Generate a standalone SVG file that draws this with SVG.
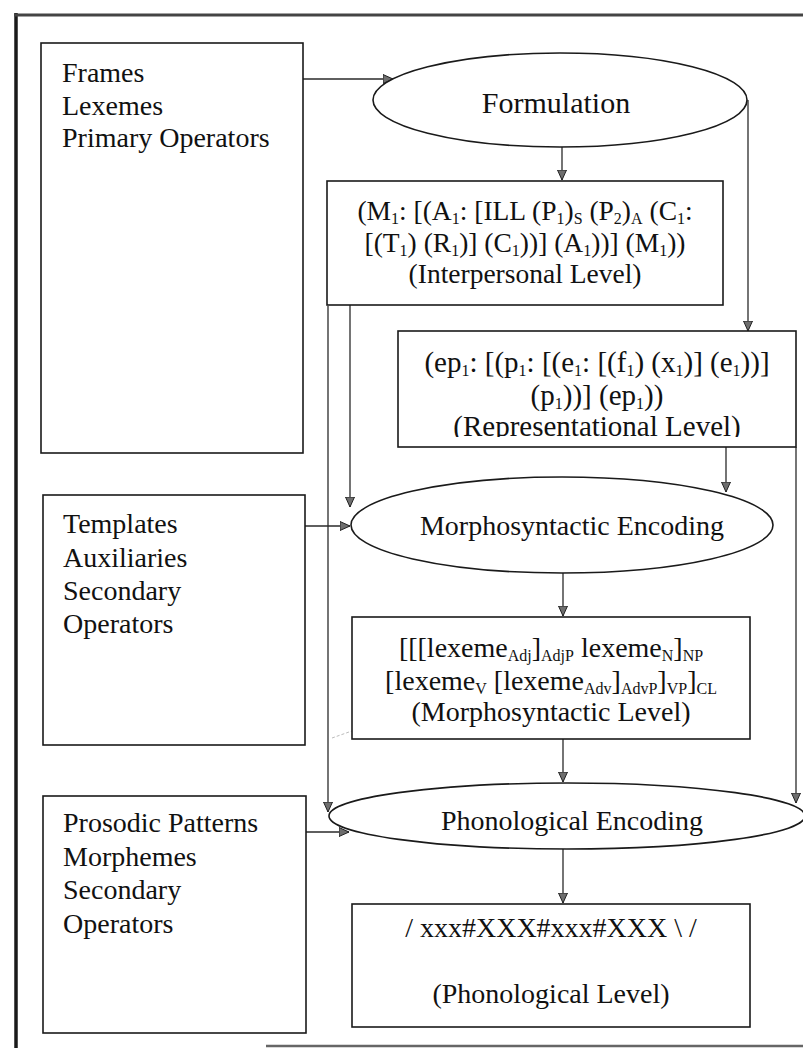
<svg xmlns="http://www.w3.org/2000/svg" width="803" height="1048" viewBox="0 0 803 1048">
<defs>
<marker id="ah" viewBox="0 0 10 10" refX="10" refY="5" markerWidth="10" markerHeight="10" markerUnits="userSpaceOnUse" orient="auto">
<path d="M0,0.5 L10,5 L0,9.5 z" fill="#6e6e6e" stroke="#222" stroke-width="1"/>
</marker>
<clipPath id="repclip"><rect x="398" y="331" width="398" height="106"/></clipPath>
</defs>
<style>
.box{fill:#fff;stroke:#1a1a1a;stroke-width:1.6}
.ell{fill:#fff;stroke:#1a1a1a;stroke-width:1.6}
.t{font-family:"Liberation Serif","Times New Roman",serif;font-size:28px;fill:#111}
.c{text-anchor:middle}
.sb{font-size:16px}
.conn path{stroke:#2a2a2a;stroke-width:1.3;fill:none;marker-end:url(#ah)}
</style>
<rect x="0" y="0" width="803" height="1048" fill="#fff"/>
<g id="frame">
<line x1="16" y1="13" x2="16" y2="1048" stroke="#1a1a1a" stroke-width="3.5"/>
<line x1="14" y1="15" x2="803" y2="15" stroke="#444" stroke-width="3"/>
<line x1="266" y1="1046" x2="803" y2="1046" stroke="#666" stroke-width="2.5"/>
<line x1="332" y1="738" x2="553" y2="660" stroke="#aaa" stroke-width="0.8" stroke-dasharray="3 2"/>
</g>
<g id="connectors" class="conn">
<path d="M303,79 H393"/>
<path d="M562,147 V180"/>
<path d="M748,100 V331"/>
<path d="M350,305 V507"/>
<path d="M328,306 V812"/>
<path d="M726,447 V492"/>
<path d="M796,447 V803"/>
<path d="M305,526 H350"/>
<path d="M563,573 V616"/>
<path d="M563,739 V782"/>
<path d="M306,832 H349"/>
<path d="M563,849 V903"/>
</g>
<g id="box-frames">
<rect class="box" x="41" y="43" width="262" height="410"/>
<text class="t" x="62" y="82">Frames</text>
<text class="t" x="62" y="115">Lexemes</text>
<text class="t" x="62" y="147">Primary Operators</text>
</g>
<g id="box-templates">
<rect class="box" x="43" y="495" width="262" height="250"/>
<text class="t" x="63" y="533">Templates</text>
<text class="t" x="63" y="567">Auxiliaries</text>
<text class="t" x="63" y="600">Secondary</text>
<text class="t" x="63" y="633">Operators</text>
</g>
<g id="box-prosodic">
<rect class="box" x="43" y="796" width="263" height="237"/>
<text class="t" x="63" y="832">Prosodic Patterns</text>
<text class="t" x="63" y="866">Morphemes</text>
<text class="t" x="63" y="899">Secondary</text>
<text class="t" x="63" y="933">Operators</text>
</g>
<g id="formulation">
<ellipse class="ell" cx="560" cy="100" rx="187" ry="47"/>
<text class="t c" x="556" y="113" style="font-size:30px">Formulation</text>
</g>
<g id="interpersonal">
<rect class="box" x="327" y="181" width="396" height="124"/>
<text class="t c" x="525" y="220" style="font-size:27.5px">(M<tspan class="sb" dy="4">1</tspan><tspan dy="-4">: [(A</tspan><tspan class="sb" dy="4">1</tspan><tspan dy="-4">: [ILL (P</tspan><tspan class="sb" dy="4">1</tspan><tspan dy="-4">)</tspan><tspan class="sb" dy="4">S</tspan><tspan dy="-4"> (P</tspan><tspan class="sb" dy="4">2</tspan><tspan dy="-4">)</tspan><tspan class="sb" dy="4">A</tspan><tspan dy="-4"> (C</tspan><tspan class="sb" dy="4">1</tspan><tspan dy="-4">:</tspan></text>
<text class="t c" x="525" y="252" style="font-size:27.5px">[(T<tspan class="sb" dy="4">1</tspan><tspan dy="-4">) (R</tspan><tspan class="sb" dy="4">1</tspan><tspan dy="-4">)] (C</tspan><tspan class="sb" dy="4">1</tspan><tspan dy="-4">))] (A</tspan><tspan class="sb" dy="4">1</tspan><tspan dy="-4">))] (M</tspan><tspan class="sb" dy="4">1</tspan><tspan dy="-4">))</tspan></text>
<text class="t c" x="525" y="283" style="font-size:27.5px">(Interpersonal Level)</text>
</g>
<g id="representational">
<rect class="box" x="398" y="331" width="398" height="116"/>
<text class="t c" x="597" y="372" style="font-size:29px">(ep<tspan class="sb" dy="4">1</tspan><tspan dy="-4">: [(p</tspan><tspan class="sb" dy="4">1</tspan><tspan dy="-4">: [(e</tspan><tspan class="sb" dy="4">1</tspan><tspan dy="-4">: [(f</tspan><tspan class="sb" dy="4">1</tspan><tspan dy="-4">) (x</tspan><tspan class="sb" dy="4">1</tspan><tspan dy="-4">)] (e</tspan><tspan class="sb" dy="4">1</tspan><tspan dy="-4">))]</tspan></text>
<text class="t c" x="597" y="405" style="font-size:29px">(p<tspan class="sb" dy="4">1</tspan><tspan dy="-4">))] (ep</tspan><tspan class="sb" dy="4">1</tspan><tspan dy="-4">))</tspan></text>
<text class="t c" x="597" y="436" style="font-size:29px" clip-path="url(#repclip)">(Representational Level)</text>
</g>
<g id="morphosyntactic-encoding">
<ellipse class="ell" cx="562" cy="525" rx="211" ry="48"/>
<text class="t c" x="572" y="535">Morphosyntactic Encoding</text>
</g>
<g id="morphosyntactic-level">
<rect class="box" x="352" y="617" width="398" height="122"/>
<text class="t c" x="551" y="657">[[[lexeme<tspan class="sb" dy="4">Adj</tspan><tspan dy="-4">]</tspan><tspan class="sb" dy="4">AdjP</tspan><tspan dy="-4"> lexeme</tspan><tspan class="sb" dy="4">N</tspan><tspan dy="-4">]</tspan><tspan class="sb" dy="4">NP</tspan></text>
<text class="t c" x="551" y="690">[lexeme<tspan class="sb" dy="4">V</tspan><tspan dy="-4"> [lexeme</tspan><tspan class="sb" dy="4">Adv</tspan><tspan dy="-4">]</tspan><tspan class="sb" dy="4">AdvP</tspan><tspan dy="-4">]</tspan><tspan class="sb" dy="4">VP</tspan><tspan dy="-4">]</tspan><tspan class="sb" dy="4">CL</tspan></text>
<text class="t c" x="551" y="721">(Morphosyntactic Level)</text>
</g>
<g id="phonological-encoding">
<ellipse class="ell" cx="567" cy="816" rx="238" ry="33"/>
<text class="t c" x="572" y="830">Phonological Encoding</text>
</g>
<g id="phonological-level">
<rect class="box" x="352" y="904" width="398" height="123"/>
<text class="t c" x="551" y="937">/ xxx#XXX#xxx#XXX \ /</text>
<text class="t c" x="551" y="1003">(Phonological Level)</text>
</g>
</svg>
